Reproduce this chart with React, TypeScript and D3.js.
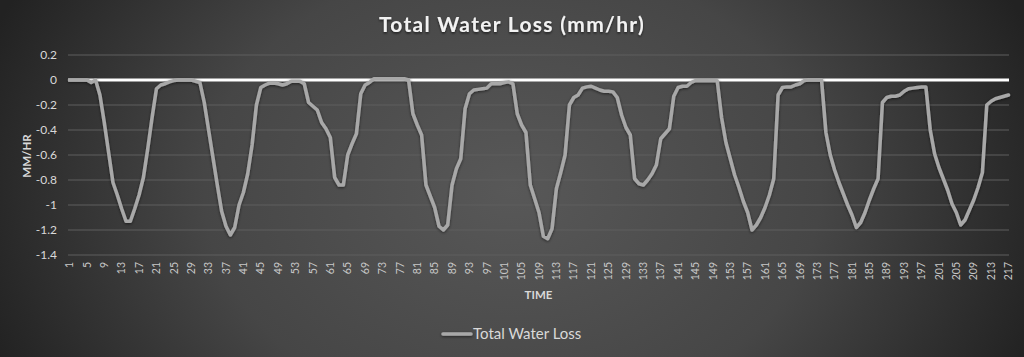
import React, { useEffect } from "react";
import * as d3 from "d3";

const W = 1024;
const H = 357;

const categories: string[] = d3.range(1, 218).map((d) => String(d));

const totalWaterLoss: number[] = [
  // 1-10
  0, 0, 0, 0, 0, -0.02, 0, -0.12, -0.34, -0.58,
  // 11-20
  -0.82, -0.92, -1.03, -1.13, -1.13, -1.03, -0.92, -0.78, -0.55, -0.3,
  // 21-30
  -0.07, -0.04, -0.03, -0.015, -0.005, 0, 0, 0, 0, -0.01,
  // 31-40
  -0.02, -0.18, -0.4, -0.62, -0.84, -1.05, -1.17, -1.24, -1.18, -1.0,
  // 41-50
  -0.9, -0.75, -0.52, -0.2, -0.06, -0.04, -0.025, -0.025, -0.03, -0.04,
  // 51-60
  -0.03, -0.01, -0.01, -0.01, -0.03, -0.18, -0.21, -0.24, -0.34, -0.39,
  // 61-70
  -0.46, -0.78, -0.84, -0.84, -0.6, -0.51, -0.43, -0.11, -0.04, -0.02,
  // 71-80
  0.01, 0.01, 0.01, 0.01, 0.01, 0.01, 0.01, 0.01, 0, -0.27,
  // 81-90
  -0.36, -0.44, -0.84, -0.93, -1.02, -1.17, -1.2, -1.16, -0.84, -0.71,
  // 91-100
  -0.63, -0.23, -0.11, -0.08, -0.075, -0.07, -0.065, -0.03, -0.03, -0.03,
  // 101-110
  -0.02, -0.015, -0.03, -0.27, -0.36, -0.42, -0.84, -0.95, -1.06, -1.25,
  // 111-120
  -1.27, -1.19, -0.87, -0.74, -0.6, -0.2, -0.14, -0.12, -0.065, -0.055,
  // 121-130
  -0.05, -0.065, -0.08, -0.09, -0.09, -0.095, -0.14, -0.28, -0.38, -0.44,
  // 131-140
  -0.79, -0.83, -0.84, -0.8, -0.75, -0.68, -0.47, -0.43, -0.39, -0.13,
  // 141-150
  -0.06, -0.05, -0.05, -0.02, -0.005, -0.005, -0.005, -0.005, -0.005, -0.005,
  // 151-160
  -0.3, -0.5, -0.63, -0.76, -0.86, -0.97, -1.06, -1.2, -1.16, -1.1,
  // 161-170
  -1.02, -0.92, -0.79, -0.12, -0.06, -0.055, -0.055, -0.04, -0.03, -0.005,
  // 171-180
  0, 0, 0, 0, -0.42, -0.6, -0.72, -0.82, -0.91, -1.0,
  // 181-190
  -1.08, -1.18, -1.14, -1.06, -0.96, -0.87, -0.79, -0.18, -0.14, -0.13,
  // 191-200
  -0.13, -0.12, -0.09, -0.07, -0.065, -0.06, -0.056, -0.056, -0.4, -0.59,
  // 201-210
  -0.7, -0.79, -0.88, -0.99, -1.06, -1.16, -1.12, -1.04, -0.96, -0.86,
  // 211-217
  -0.74, -0.2, -0.17, -0.15, -0.14, -0.13, -0.12,
];

const yTicks: number[] = [0.2, 0, -0.2, -0.4, -0.6, -0.8, -1, -1.2, -1.4];
const xTickLabels: string[] = categories.filter((_, i) => i % 4 === 0);

const title = "Total Water Loss (mm/hr)";
const seriesName = "Total Water Loss";
const yTitle = "MM/HR";
const xTitle = "TIME";

const FONT = "Lato, 'Open Sans', 'DejaVu Sans', sans-serif";

export default function App() {
  useEffect(() => {
    document.body.style.margin = "0";
  }, []);

  const left = 69.5;
  const right = 1008.5;
  const top = 55;
  const bottom = 255;

  const x = d3.scalePoint<string>().domain(categories).range([left, right]);
  const y = d3.scaleLinear().domain([-1.4, 0.2]).range([bottom, top]);

  const line = d3
    .line<number>()
    .x((_, i) => x(categories[i]) as number)
    .y((d) => y(d));

  const pathD = line(totalWaterLoss) || "";
  const gridLeft = 68;
  const gridRight = 1009;

  return (
    <svg
      width={W}
      height={H}
      viewBox={`0 0 ${W} ${H}`}
      style={{ position: "absolute", left: 0, top: 0, display: "block" }}
    >
      <defs>
        <radialGradient
          id="bg"
          gradientUnits="userSpaceOnUse"
          cx={512}
          cy={190}
          r={560}
          gradientTransform="translate(512 190) scale(1 0.75) translate(-512 -190)"
        >
          <stop offset="0" stopColor="#585858" />
          <stop offset="0.55" stopColor="#464646" />
          <stop offset="1" stopColor="#222222" />
        </radialGradient>
        <filter id="shadow" x="-10%" y="-20%" width="120%" height="150%">
          <feDropShadow dx="0" dy="1.5" stdDeviation="1.2" floodColor="#000" floodOpacity="0.6" />
        </filter>
        <filter
          id="glow"
          filterUnits="userSpaceOnUse"
          x={0}
          y={0}
          width={W}
          height={H}
        >
          <feGaussianBlur in="SourceAlpha" stdDeviation="1.5" result="b" />
          <feOffset dx="0" dy="1" in="b" result="o" />
          <feComponentTransfer in="o" result="s">
            <feFuncA type="linear" slope="0.55" />
          </feComponentTransfer>
          <feMerge>
            <feMergeNode in="s" />
            <feMergeNode in="SourceGraphic" />
          </feMerge>
        </filter>
      </defs>
      <rect x={0} y={0} width={W} height={H} fill="url(#bg)" />

      <text
        x={512}
        y={32}
        textAnchor="middle"
        fontFamily={FONT}
        fontWeight="bold"
        fontSize={21}
        letterSpacing={1.3}
        fill="#f2f2f2"
        filter="url(#shadow)"
      >
        {title}
      </text>

      {/* gridlines */}
      {yTicks.map((t) => (
        <line
          key={`g${t}`}
          x1={gridLeft}
          x2={gridRight}
          y1={y(t)}
          y2={y(t)}
          stroke="#5f5f5f"
          strokeWidth={1}
        />
      ))}

      {/* y tick labels */}
      {yTicks.map((t) => (
        <text
          key={`yt${t}`}
          x={57}
          y={y(t)}
          dy="0.35em"
          textAnchor="end"
          fontFamily={FONT}
          fontSize={12}
          fill="#d9d9d9"
        >
          {String(t)}
        </text>
      ))}

      {/* zero axis line */}
      <line
        x1={gridLeft}
        x2={gridRight}
        y1={y(0)}
        y2={y(0)}
        stroke="#ffffff"
        strokeWidth={3}
      />

      {/* series */}
      <path
        d={pathD}
        fill="none"
        stroke="#a8a8a8"
        strokeWidth={3.5}
        strokeLinejoin="round"
        strokeLinecap="round"
        filter="url(#glow)"
      />

      {/* x tick labels */}
      {xTickLabels.map((c) => (
        <text
          key={`xt${c}`}
          transform={`translate(${x(c)},${262}) rotate(-90)`}
          dy="0.35em"
          textAnchor="end"
          fontFamily={FONT}
          fontSize={10.5}
          fill="#c8c8c8"
        >
          {c}
        </text>
      ))}

      {/* axis titles */}
      <text
        transform={`translate(27,${(top + bottom) / 2 + 1}) rotate(-90)`}
        dy="0.35em"
        textAnchor="middle"
        fontFamily={FONT}
        fontWeight="bold"
        fontSize={11.5}
        fill="#d9d9d9"
      >
        {yTitle}
      </text>
      <text
        x={(gridLeft + gridRight) / 2}
        y={295}
        dy="0.35em"
        textAnchor="middle"
        fontFamily={FONT}
        fontWeight="bold"
        fontSize={11.5}
        fill="#d9d9d9"
      >
        {xTitle}
      </text>

      {/* legend */}
      <line
        x1={443}
        x2={471}
        y1={334}
        y2={334}
        stroke="#a8a8a8"
        strokeWidth={3.5}
        strokeLinecap="round"
        filter="url(#glow)"
      />
      <text
        x={473}
        y={334}
        dy="0.35em"
        fontFamily={FONT}
        fontSize={15}
        fill="#d9d9d9"
      >
        {seriesName}
      </text>
    </svg>
  );
}
